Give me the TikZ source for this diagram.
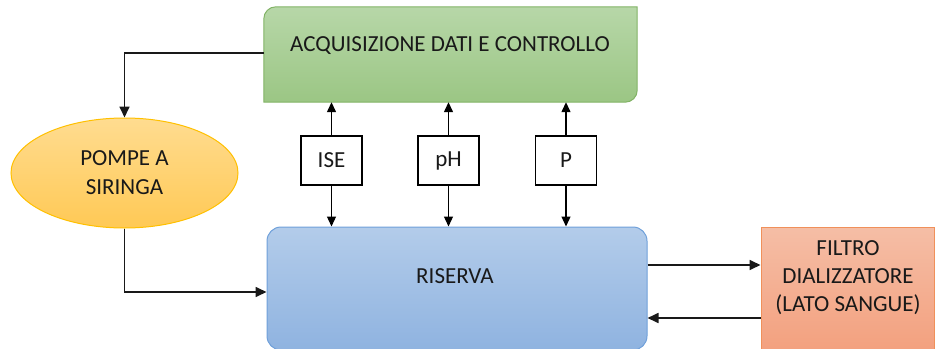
\documentclass[tikz,border=0pt]{standalone}
\usepackage{fontspec}
\setmainfont{Carlito}
\usetikzlibrary{shapes.geometric,arrows.meta}
\definecolor{gtop}{HTML}{B7D7A8}
\definecolor{gbot}{HTML}{9BC684}
\definecolor{gbrd}{HTML}{82B366}
\definecolor{otop}{HTML}{FFDC90}
\definecolor{obot}{HTML}{FFC955}
\definecolor{obrd}{HTML}{FFC000}
\definecolor{btop}{HTML}{B3CCEA}
\definecolor{bbot}{HTML}{8FB3E0}
\definecolor{bbrd}{HTML}{6FA0DA}
\definecolor{rtop}{HTML}{F5BEA6}
\definecolor{rbot}{HTML}{F3A07E}
\definecolor{rbrd}{HTML}{F0905A}
\begin{document}
\begin{tikzpicture}[x=1pt,y=-1pt,
  every node/.style={font=\fontsize{23}{28}\selectfont, text=black!90},
  conn/.style={line width=1.7pt, draw=black!90, -{Triangle[length=11pt,width=10pt]}},
  sconn/.style={line width=1.3pt, draw=black, -{Triangle[length=10pt,width=9pt]}},
  sensbox/.style={draw=black, line width=1.5pt, fill=white, minimum width=61pt, minimum height=49pt, inner sep=0pt},
  boxnode/.style={inner sep=0pt},
]
\useasboundingbox (0,0) rectangle (936,348);
\clip (0,0) rectangle (936,348);

% acquisition box
\node[boxnode, minimum width=373pt, minimum height=95pt] (acq) at (450.5,54.5) {};
\path[draw=gbrd, line width=1pt, top color=gtop, bottom color=gbot]
  ([yshift=-12pt]acq.north west) arc[start angle=180, end angle=90, radius=12pt]
  -- (acq.north east) -- ([yshift=12pt]acq.south east)
  arc[start angle=0, end angle=-90, radius=12pt]
  -- (acq.south west) -- cycle;
\node[anchor=base] (acqtext) at (450,51.5) {ACQUISIZIONE DATI E CONTROLLO};

% pumps
\node[ellipse, boxnode, minimum width=227pt, minimum height=110pt, draw=obrd, line width=1pt,
  top color=otop, bottom color=obot, align=center] (pompe) at (124.5,173) {POMPE A\\[1pt]SIRINGA};

% reservoir
\node[boxnode, rounded corners=14pt, draw=bbrd, line width=1pt, top color=btop, bottom color=bbot,
  minimum width=380pt, minimum height=123pt] (ris) at (457,288.5) {};
\node[anchor=base] (ristext) at (455,283.5) {RISERVA};

% filter
\node[boxnode, draw=rbrd, line width=1pt, top color=rtop, bottom color=rbot,
  minimum width=173pt, minimum height=125pt] (fil) at (847.5,289.5) {};
\node[align=center] (filtext) at (848,278) {FILTRO\\DIALIZZATORE\\(LATO SANGUE)};

% sensors
\node[sensbox] (ise) at (331.5,160.5) {ISE};
\node[sensbox] (ph) at (448.5,160.5) {pH};
\node[sensbox] (p) at (566,160.5) {P};

\foreach \s in {ise,ph,p}{
  \draw[sconn] (\s.north) -- (\s.north |- acq.south);
  \draw[sconn] (\s.south) -- (\s.south |- ris.north);
}

% connectors
\coordinate (a1) at ([yshift=1.5pt]acq.west);
\draw[conn] (a1) -| (pompe.north);
\coordinate (r0) at ([yshift=-3.5pt]ris.west);
\draw[conn] (pompe.south) |- (r0);
\coordinate (r1) at ([yshift=23.5pt]ris.east);
\coordinate (r2) at ([yshift=-29.5pt]ris.east);
\draw[conn] (r1) -- (r1 -| fil.west);
\draw[conn] (r2 -| fil.west) -- (r2);
\end{tikzpicture}
\end{document}
